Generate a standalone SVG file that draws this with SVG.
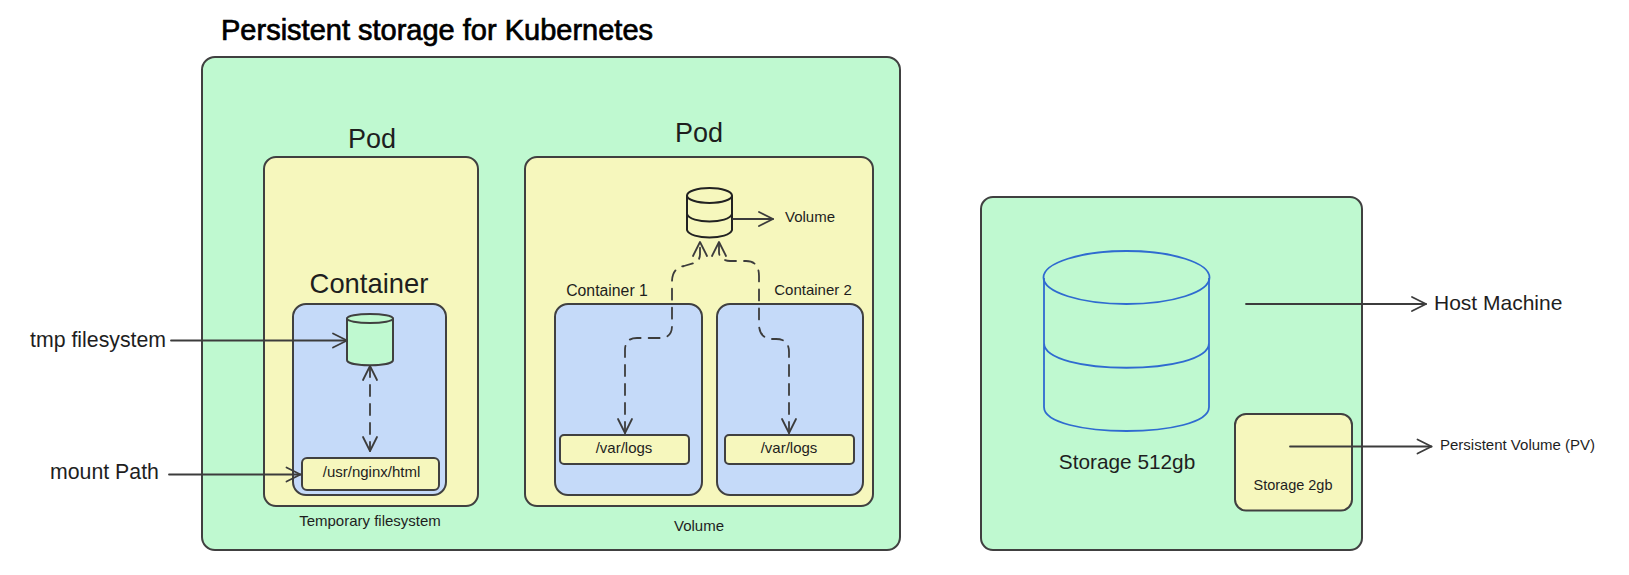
<svg xmlns="http://www.w3.org/2000/svg" width="1629" height="575" viewBox="0 0 1629 575">
<style>
text{font-family:"Liberation Sans",Arial,sans-serif;fill:#1e1e1e}
.b{stroke:#404040;stroke-width:2;stroke-linejoin:round}
.g{fill:#bff9d0}.y{fill:#f6f7bd}.l{fill:#c5daf9}
.c{fill:none;stroke:#3c3c3c;stroke-width:1.8;stroke-linecap:round;stroke-linejoin:round}
.d{stroke-dasharray:11 8}
.cy{fill:none;stroke:#222;stroke-width:2}
.bl{fill:none;stroke:#2f6bd0;stroke-width:1.800}
.m{text-anchor:middle}
</style>
<defs>
<marker id="a" markerUnits="userSpaceOnUse" markerWidth="24" markerHeight="24" refX="17" refY="12" orient="auto-start-reverse"><path d="M3 5L17 12L3 19" fill="none" stroke="#3c3c3c" stroke-width="1.8" stroke-linecap="round" stroke-linejoin="round"/></marker>
</defs>
<rect width="1629" height="575" fill="#fff"/>
<text id="title" x="221" y="40" font-size="29" style="fill:#000;stroke:#000;stroke-width:.7">Persistent storage for Kubernetes</text>
<g id="cluster"><rect class="b g" x="202" y="57" width="698" height="493" rx="13"/><text class="m" x="370" y="526" font-size="15">Temporary filesystem</text><text class="m" x="699" y="531" font-size="15">Volume</text></g>
<g id="pod1"><rect class="b y" x="264" y="157" width="214" height="349" rx="12"/><text class="m" x="372" y="148" font-size="27">Pod</text></g>
<g id="container"><rect class="b l" x="293" y="304" width="153" height="191" rx="13"/><text class="m" x="369" y="293" font-size="27.400">Container</text></g>
<g id="tmp-cylinder"><path class="b g" d="M347 318.500V360C347 367 393 367 393 360V318.500Z"/><ellipse class="b g" cx="370" cy="318.500" rx="23" ry="4.500"/></g>
<g id="nginx-path"><rect class="b y" x="302" y="458" width="137" height="32" rx="5"/><text class="m" x="371.500" y="477" font-size="15">/usr/nginx/html</text></g>
<g id="pod2"><rect class="b y" x="525" y="157" width="348" height="349" rx="12"/><text class="m" x="699" y="142" font-size="27">Pod</text></g>
<g id="container1"><rect class="b l" x="555" y="304" width="147" height="191" rx="13"/><text class="m" x="607" y="296" font-size="15.800">Container 1</text></g>
<g id="container2"><rect class="b l" x="717" y="304" width="146" height="191" rx="13"/><text class="m" x="813" y="295" font-size="15">Container 2</text></g>
<g id="logs1"><rect class="b y" x="560" y="435" width="129" height="29" rx="4"/><text class="m" x="624" y="453" font-size="15">/var/logs</text></g>
<g id="logs2"><rect class="b y" x="725" y="435" width="129" height="29" rx="4"/><text class="m" x="789" y="453" font-size="15">/var/logs</text></g>
<g id="volume-cylinder"><path class="cy" d="M687 195.500V230C690 240 729 240 732 230V195.500M687 214C690 224 729 224 732 214"/><ellipse class="cy" cx="709.500" cy="195.500" rx="22.500" ry="7.500"/><text x="785" y="222" font-size="15">Volume</text></g>
<g id="host"><rect class="b g" x="981" y="197" width="381" height="353" rx="12"/><text class="m" x="1127" y="469" font-size="20.800">Storage 512gb</text></g>
<g id="storage-cylinder"><ellipse class="bl" cx="1126.500" cy="277.500" rx="83" ry="26.500"/><path class="bl" d="M1044 278V407C1044 439 1209 439 1209 407V278M1044 343C1044 376 1209 376 1209 343"/></g>
<g id="storage-2gb"><rect class="b y" x="1235" y="414" width="117" height="96.500" rx="11"/><text class="m" x="1293" y="490" font-size="14.500">Storage 2gb</text></g>
<g id="labels"><text x="30" y="347" font-size="21.300">tmp filesystem</text><text x="50" y="479" font-size="21.300">mount Path</text><text x="1434" y="310" font-size="21">Host Machine</text><text x="1440" y="450" font-size="15">Persistent Volume (PV)</text></g>
<g id="connectors">
<path class="c" marker-end="url(#a)" d="M171 340.500H347"/>
<path class="c" marker-end="url(#a)" d="M169 474.500H300.500"/>
<path class="c d" marker-start="url(#a)" marker-end="url(#a)" d="M370 366V451"/>
<path class="c d" marker-start="url(#a)" marker-end="url(#a)" d="M625 433V350Q625 338 637 338H660Q672 338 672 326V282Q672 268 684 266L694 263Q700 261 700 254V242"/>
<path class="c d" marker-start="url(#a)" marker-end="url(#a)" d="M789 433V352Q789 339 776 339H770Q759 337 759 324V276Q759 261 746 261H730Q719 260 719 252V242"/>
<path class="c" marker-end="url(#a)" d="M733 219H773"/>
<path class="c" marker-end="url(#a)" d="M1246 304H1426"/>
<path class="c" marker-end="url(#a)" d="M1290 446.500H1431.500"/>
</g>
</svg>
